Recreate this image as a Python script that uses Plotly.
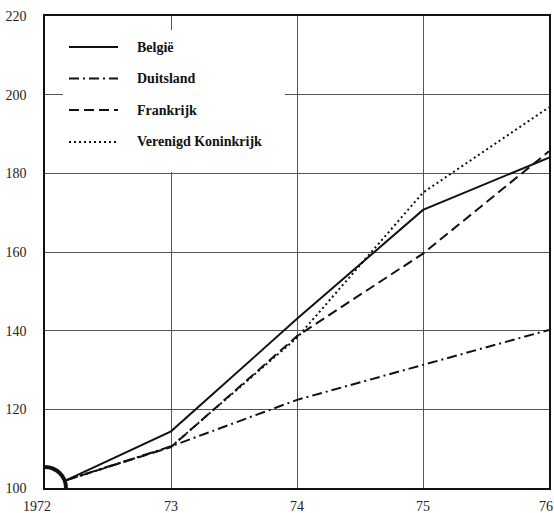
import plotly.graph_objects as go

# ---- data ----
years = [1972.17, 1973, 1974, 1975, 1976]
series_names = ["België", "Duitsland", "Frankrijk", "Verenigd Koninkrijk"]
belgie = [102.0, 114.4, 143.0, 170.7, 184.0]
duitsland = [102.0, 110.6, 122.4, 131.3, 140.2]
frankrijk = [102.0, 110.4, 138.6, 159.6, 185.6]
vk = [102.0, 110.5, 138.2, 175.1, 196.8]
x_tickvals = [1972, 1973, 1974, 1975, 1976]
x_ticktext = ["1972", "73", "74", "75", "76"]
y_tickvals = [100, 120, 140, 160, 180, 200, 220]

values = [belgie, duitsland, frankrijk, vk]
dashes = ["solid", "10px,4px,2px,4px", "10px,5px", "2px,3px"]

# ---- layout geometry (pixels) ----
W, H = 554, 513
L, R, T, B = 45, 5, 16, 25
pw, ph = W - L - R, H - T - B


def px_x(px):
    return (px - L) / pw


def px_y(py):
    return (H - B - py) / ph


fig = go.Figure()
for name, vals, dash in zip(series_names, values, dashes):
    fig.add_trace(go.Scatter(
        x=years, y=vals, mode="lines", name=name, showlegend=False,
        line=dict(color="#111111", width=2, dash=dash),
    ))

shapes = []
# axis-break quarter arc at the origin
shapes.append(dict(type="circle", xref="x", yref="y", xsizemode="pixel", ysizemode="pixel",
                   xanchor=1972, yanchor=100, x0=-21, x1=21, y0=-21, y1=21,
                   line=dict(color="#111111", width=4), layer="above"))
# white legend box covering the grid
shapes.append(dict(type="rect", xref="paper", yref="paper",
                   x0=px_x(63), x1=px_x(285), y0=px_y(172), y1=px_y(30),
                   fillcolor="white", line=dict(width=0), layer="above"))

annotations = []
legend_y = [47, 78.5, 110, 142]
for name, dash, ly in zip(series_names, dashes, legend_y):
    shapes.append(dict(type="line", xref="paper", yref="paper",
                       x0=px_x(69), x1=px_x(118), y0=px_y(ly), y1=px_y(ly),
                       line=dict(color="#111111", width=2, dash=dash), layer="above"))
    annotations.append(dict(xref="paper", yref="paper", x=px_x(135), y=px_y(ly),
                            xanchor="left", yanchor="middle", showarrow=False,
                            text="<b>%s</b>" % name,
                            font=dict(family="Liberation Serif", size=14, color="#111111")))

# x-axis labels as annotations so the end labels stay inside the page
tick_font = dict(family="Liberation Serif", size=14, color="#222222")
n_ticks = len(x_tickvals)
for i, (tv, tt) in enumerate(zip(x_tickvals, x_ticktext)):
    xshift = -8 if i == 0 else (-3 if i == n_ticks - 1 else 0)
    annotations.append(dict(xref="x", yref="paper", x=tv, y=0, yanchor="top",
                            xanchor="center", xshift=xshift, yshift=-9,
                            showarrow=False, text=tt, font=tick_font))

axis_common = dict(
    showgrid=True, gridcolor="#555555", gridwidth=1,
    showline=True, linecolor="#111111", linewidth=1.5, mirror=True,
    zeroline=False, ticks="", automargin=False,
    tickfont=tick_font,
)

fig.update_layout(
    width=W, height=H,
    margin=dict(l=L, r=R, t=T, b=B),
    paper_bgcolor="white", plot_bgcolor="white",
    showlegend=False,
    shapes=shapes, annotations=annotations,
    xaxis=dict(range=[1972, 1976], tickvals=x_tickvals, showticklabels=False,
               **axis_common),
    yaxis=dict(range=[100, 220], tickvals=y_tickvals, ticklabelstandoff=14, **axis_common),
)

fig.write_html(
    "out.html",
    config={"displayModeBar": False},
    post_script="document.body.style.margin='0';document.body.style.overflow='hidden';",
)
